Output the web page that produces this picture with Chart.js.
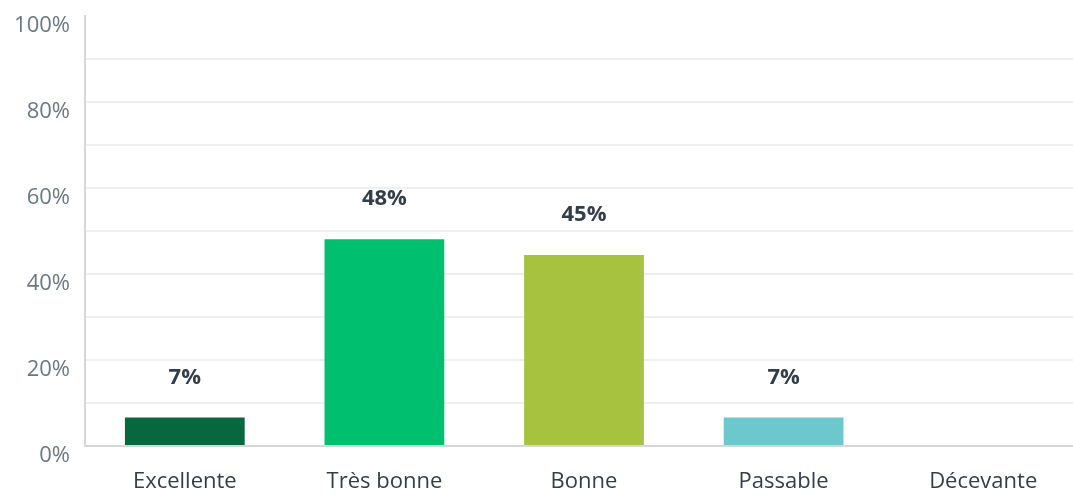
<!DOCTYPE html>
<html>
<head>
<meta charset="utf-8">
<script src="https://cdn.jsdelivr.net/npm/chart.js@4/dist/chart.umd.min.js"></script>
<style>
  html, body { margin: 0; padding: 0; background: #fff; overflow: hidden; }
  #wrap { position: absolute; left: 0; top: 0; width: 1083px; height: 496px; }
</style>
</head>
<body>
<div id="wrap"><canvas id="chart" width="1083" height="496"></canvas></div>
<script>
const categories = ["Excellente", "Très bonne", "Bonne", "Passable", "Décevante"];
const values = [6.6, 48.1, 44.4, 6.6, 0];
const valueLabels = ["7%", "48%", "45%", "7%", ""];
const barColors = ["#07673f", "#00bf6f", "#a7c23e", "#6cc8cd", "#cccccc"];
const yTicks = [0, 20, 40, 60, 80, 100];

const FONT = "'Open Sans', sans-serif";

// draws the percentage above each bar
const valueLabelPlugin = {
  id: "valueLabels",
  afterDatasetsDraw(chart) {
    const ctx = chart.ctx;
    const meta = chart.getDatasetMeta(0);
    ctx.save();
    ctx.font = "bold 22px " + FONT;
    ctx.fillStyle = "#333e48";
    ctx.textAlign = "center";
    ctx.textBaseline = "middle";
    meta.data.forEach((bar, i) => {
      if (valueLabels[i]) ctx.fillText(valueLabels[i], bar.x, bar.y - 40);
    });
    ctx.restore();
  }
};

new Chart(document.getElementById("chart"), {
  type: "bar",
  data: {
    labels: categories,
    datasets: [{
      data: values,
      backgroundColor: barColors,
      borderWidth: 0,
      categoryPercentage: 0.6,
      barPercentage: 1
    }]
  },
  options: {
    responsive: false,
    animation: false,
    layout: { padding: { top: 16, right: 0, bottom: 0, left: 0 } },
    plugins: { legend: { display: false }, tooltip: { enabled: false } },
    scales: {
      x: {
        grid: { display: true, color: "rgba(0,0,0,0)", drawTicks: false },
        border: { display: true, color: "#d6d6d6", width: 2 },
        ticks: { color: "#333e48", font: { family: FONT, size: 22 }, padding: 23 },
        afterFit(scale) { scale.height = 50; scale.paddingLeft = 0; scale.paddingRight = 0; }
      },
      y: {
        min: 0,
        max: 100,
        grid: {
          drawTicks: false,
          lineWidth: 2,
          color: (ctx) => (ctx.tick && (ctx.tick.value === 100 || ctx.tick.value === 0)) ? "rgba(0,0,0,0)" : "#efefef"
        },
        border: { display: true, color: "#d6d6d6", width: 2 },
        ticks: {
          stepSize: 10,
          padding: 15,
          labelOffset: 10,
          color: "#6b787f",
          font: { family: FONT, size: 22 },
          callback: (v) => yTicks.includes(v) ? v + "%" : ""
        },
        afterFit(scale) { scale.width = 85; scale.paddingTop = 0; scale.paddingBottom = 0; }
      }
    }
  },
  plugins: [valueLabelPlugin]
});
</script>
</body>
</html>
